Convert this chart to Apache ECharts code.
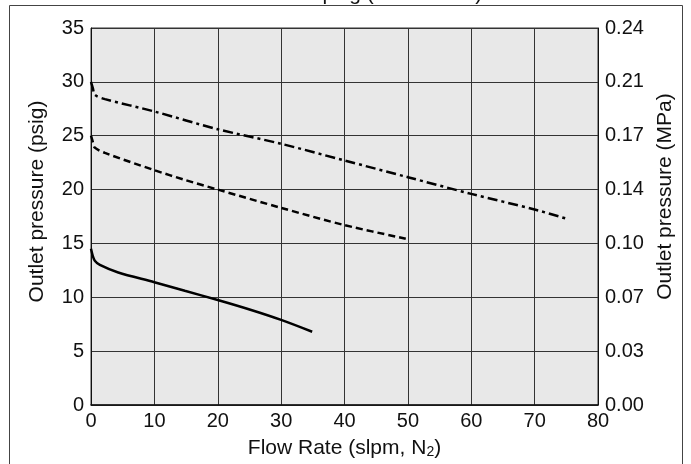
<!DOCTYPE html>
<html>
<head>
<meta charset="utf-8">
<script src="https://cdn.jsdelivr.net/npm/echarts@6/dist/echarts.min.js"></script>
<style>html,body{margin:0;padding:0;background:#fff;}#c{width:691px;height:464px;}</style>
</head>
<body>
<div id="c"></div>
<script>
// Data (flow rate slpm, outlet pressure psig)
var xTicks = [0, 10, 20, 30, 40, 50, 60, 70, 80];
var leftTicks = [0, 5, 10, 15, 20, 25, 30, 35];
var rightTickLabels = ['0.00', '0.03', '0.07', '0.10', '0.14', '0.17', '0.21', '0.24'];

var solidX = [0, 0.3, 0.6, 1.4, 4.3, 10, 14.8, 20, 25.4, 30, 34.9];
var solidY = [14.5, 13.8, 13.4, 13.0, 12.3, 11.4, 10.6, 9.75, 8.8, 7.9, 6.8];

var dashX = [0, 0.3, 0.6, 2.2, 10, 14.8, 20, 30, 40, 50];
var dashY = [25, 24.4, 23.9, 23.4, 21.8, 20.9, 20.0, 18.3, 16.7, 15.4];

var dashDotX = [0, 0.3, 0.6, 2.2, 10, 20, 30, 40, 50, 60, 70, 75];
var dashDotY = [30, 29.4, 28.8, 28.4, 27.25, 25.6, 24.25, 22.7, 21.15, 19.6, 18.15, 17.3];

function pairs(xs, ys) { return xs.map(function (x, i) { return [x, ys[i]]; }); }

var FONT = '"Liberation Sans", Arial, Helvetica, sans-serif';
var chart = echarts.init(document.getElementById('c'), null, {renderer: 'canvas'});
var gridColor = '#333';
chart.setOption({
  animation: false,
  backgroundColor: '#fff',
  textStyle: {fontFamily: FONT},
  graphic: [
    {type: 'rect', shape: {x: 9.5, y: 5.5, width: 673, height: 470}, style: {fill: 'none', stroke: '#444', lineWidth: 1}, z: -1},
    {type: 'text', x: 365, y: 5, style: {text: 'Inlet 60 psig (0.414 MPa)', font: '21px ' + FONT, fill: '#111', align: 'center', verticalAlign: 'bottom'}}
  ],
  grid: {left: 91, right: 93, top: 28, bottom: 58, show: true, backgroundColor: '#e8e8e8', borderColor: gridColor, borderWidth: 1},
  xAxis: {
    type: 'value', min: xTicks[0], max: xTicks[xTicks.length - 1], interval: 10,
    name: 'Flow Rate (slpm, N{sub|2})', nameLocation: 'middle', nameGap: 33,
    nameTextStyle: {fontSize: 21, color: '#111', fontFamily: FONT, rich: {sub: {fontSize: 14, color: '#111', verticalAlign: 'bottom', padding: [7, 0, 0, 0]}}},
    axisLine: {lineStyle: {color: '#111', width: 1.5}},
    axisTick: {show: false},
    axisLabel: {fontSize: 20, color: '#111', margin: 6},
    splitLine: {show: true, lineStyle: {color: gridColor, width: 1}}
  },
  yAxis: [
    {
      type: 'value', min: leftTicks[0], max: leftTicks[leftTicks.length - 1], interval: 5, position: 'left',
      name: 'Outlet pressure (psig)', nameLocation: 'middle', nameGap: 43,
      nameTextStyle: {fontSize: 21, color: '#111', fontFamily: FONT, padding: [0, 0, 0, 30]},
      axisLine: {show: true, lineStyle: {color: '#111', width: 1}},
      axisTick: {show: false},
      axisLabel: {fontSize: 20, color: '#111', margin: 7},
      splitLine: {show: true, lineStyle: {color: gridColor, width: 1}}
    },
    {
      type: 'value', min: leftTicks[0], max: leftTicks[leftTicks.length - 1], interval: 5, position: 'right',
      name: 'Outlet pressure (MPa)', nameLocation: 'middle', nameGap: 56, nameRotate: 90,
      nameTextStyle: {fontSize: 21, color: '#111', fontFamily: FONT, padding: [0, 0, 0, 40]},
      axisLine: {show: true, lineStyle: {color: '#111', width: 1}},
      axisTick: {show: false},
      axisLabel: {fontSize: 20, color: '#111', margin: 7, formatter: function (v) { return rightTickLabels[Math.round(v / 5)]; }},
      splitLine: {show: false}
    }
  ],
  series: [
    {type: 'line', data: pairs(solidX, solidY), smooth: 0.3, showSymbol: false, lineStyle: {color: '#000', width: 2.5, type: 'solid'}},
    {type: 'line', data: pairs(dashX, dashY), smooth: 0.3, showSymbol: false, lineStyle: {color: '#000', width: 2.5, type: [7, 4]}},
    {type: 'line', data: pairs(dashDotX, dashDotY), smooth: 0.3, showSymbol: false, lineStyle: {color: '#000', width: 2.5, type: [10, 4, 3, 4]}}
  ]
});
</script>
</body>
</html>
